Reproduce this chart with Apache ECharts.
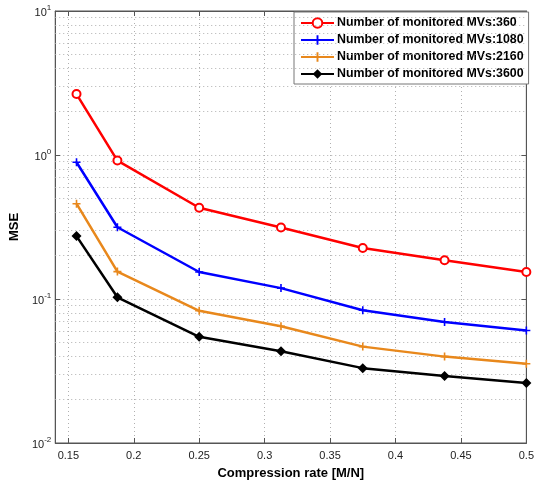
<!DOCTYPE html>
<html>
<head>
<meta charset="utf-8">
<script src="https://cdn.jsdelivr.net/npm/echarts@6/dist/echarts.min.js"></script>
<style>html,body{margin:0;padding:0;background:#fff;}#c{width:537px;height:485px;}</style>
</head>
<body>
<div id="c"></div>
<script>
var compressionRate = [0.15625, 0.1875, 0.25, 0.3125, 0.375, 0.4375, 0.5];
var seriesNames = ['Number of monitored MVs:360', 'Number of monitored MVs:1080', 'Number of monitored MVs:2160', 'Number of monitored MVs:3600'];
var mse360  = [2.65, 0.915, 0.43, 0.314, 0.226, 0.186, 0.154];
var mse1080 = [0.89, 0.315, 0.154, 0.119, 0.0835, 0.0692, 0.0604];
var mse2160 = [0.459, 0.155, 0.0828, 0.0647, 0.0467, 0.0398, 0.0355];
var mse3600 = [0.2735, 0.1028, 0.0546, 0.0434, 0.0331, 0.0292, 0.0261];
var xTickLabels = ['0.15', '0.2', '0.25', '0.3', '0.35', '0.4', '0.45', '0.5'];

var FONT = 'Liberation Sans, Arial, sans-serif';
var gridDot = {color: '#b0b0b0', width: 1, type: [1, 3]};

function pairs(vals) { return compressionRate.map(function (x, i) { return [x, vals[i]]; }); }

// minor log grid positions (2..9 x 10^k)
var minorLines = [];
[0.01, 0.1, 1].forEach(function (d) {
  for (var m = 2; m <= 9; m++) minorLines.push({yAxis: +(m * d).toPrecision(3)});
});

var plusPath = 'path://M4,0h2v4h4v2h-4v4h-2v-4h-4v-2h4z';

var chart = echarts.init(document.getElementById('c'), null, {renderer: 'canvas'});
chart.setOption({
  animation: false,
  textStyle: {fontFamily: FONT},
  grid: {left: 49, right: 6, top: 11, bottom: 37, show: true, borderColor: '#555', borderWidth: 1, backgroundColor: '#fff'},
  legend: {
    data: seriesNames,
    orient: 'vertical',
    left: 294, top: 12,
    padding: [5, 5, 4, 6],
    itemGap: 5,
    itemWidth: 33, itemHeight: 12,
    borderColor: '#777', borderWidth: 1,
    backgroundColor: '#fff',
    textStyle: {fontFamily: FONT, fontWeight: 'bold', fontSize: 12.4, color: '#000', padding: [0, 0, 0, -2]}
  },
  xAxis: [{
    type: 'value', min: 0.14, max: 0.5, splitNumber: 7,
    name: 'Compression rate [M/N]', nameLocation: 'middle', nameGap: 24,
    nameTextStyle: {fontFamily: FONT, fontWeight: 'bold', fontSize: 13, color: '#000'},
    axisLine: {show: true, lineStyle: {color: '#555'}},
    axisTick: {show: true, inside: true, length: 5, lineStyle: {color: '#555'}},
    axisLabel: {showMinLabel: false, margin: 7, fontSize: 11, color: '#222',
      formatter: function (v) { var s = (+v.toFixed(2)).toString(); return xTickLabels.indexOf(s) >= 0 ? s : ''; }},
    splitLine: {show: true, lineStyle: gridDot}
  }, {
    type: 'value', min: 0.14, max: 0.5, splitNumber: 7, position: 'top',
    axisLine: {show: true, lineStyle: {color: '#555'}},
    axisTick: {show: true, inside: true, length: 5, lineStyle: {color: '#555'}},
    axisLabel: {show: false}, splitLine: {show: false}
  }],
  yAxis: [{
    type: 'log', logBase: 10, min: 0.01, max: 10, splitNumber: 3,
    name: 'MSE', nameLocation: 'middle', nameGap: 30,
    nameTextStyle: {fontFamily: FONT, fontWeight: 'bold', fontSize: 13, color: '#000'},
    axisLine: {show: true, lineStyle: {color: '#555'}},
    axisTick: {show: true, inside: true, length: 5, lineStyle: {color: '#555'}},
    axisLabel: {margin: 4, color: '#222',
      formatter: function (v) { return '{b|10}{s|' + Math.round(Math.log10(v)) + '}'; },
      rich: {b: {fontSize: 11, color: '#222', verticalAlign: 'bottom'},
             s: {fontSize: 8, color: '#222', verticalAlign: 'bottom', padding: [0, 0, 7, 0]}}},
    splitLine: {show: true, lineStyle: gridDot}
  }, {
    type: 'log', logBase: 10, min: 0.01, max: 10, splitNumber: 3, position: 'right',
    axisLine: {show: true, lineStyle: {color: '#555'}},
    axisTick: {show: true, inside: true, length: 5, lineStyle: {color: '#555'}},
    axisLabel: {show: false}, splitLine: {show: false}
  }],
  series: [
    {name: 'minorGrid', type: 'line', data: [], z: 1, silent: true,
     markLine: {silent: true, symbol: 'none', label: {show: false}, lineStyle: gridDot, animation: false, data: minorLines}},
    {name: seriesNames[0], type: 'line', data: pairs(mse360), color: '#ff0000',
     symbol: 'emptyCircle', symbolSize: 8, lineStyle: {width: 2.5}, itemStyle: {borderWidth: 2}, z: 5},
    {name: seriesNames[1], type: 'line', data: pairs(mse1080), color: '#0000ff',
     symbol: plusPath, symbolSize: 8, lineStyle: {width: 2.5}, z: 5},
    {name: seriesNames[2], type: 'line', data: pairs(mse2160), color: '#e8881c',
     symbol: plusPath, symbolSize: 8, lineStyle: {width: 2.5}, z: 5},
    {name: seriesNames[3], type: 'line', data: pairs(mse3600), color: '#000000',
     symbol: 'diamond', symbolSize: 10, lineStyle: {width: 2.5}, z: 5}
  ]
});
</script>
</body>
</html>
